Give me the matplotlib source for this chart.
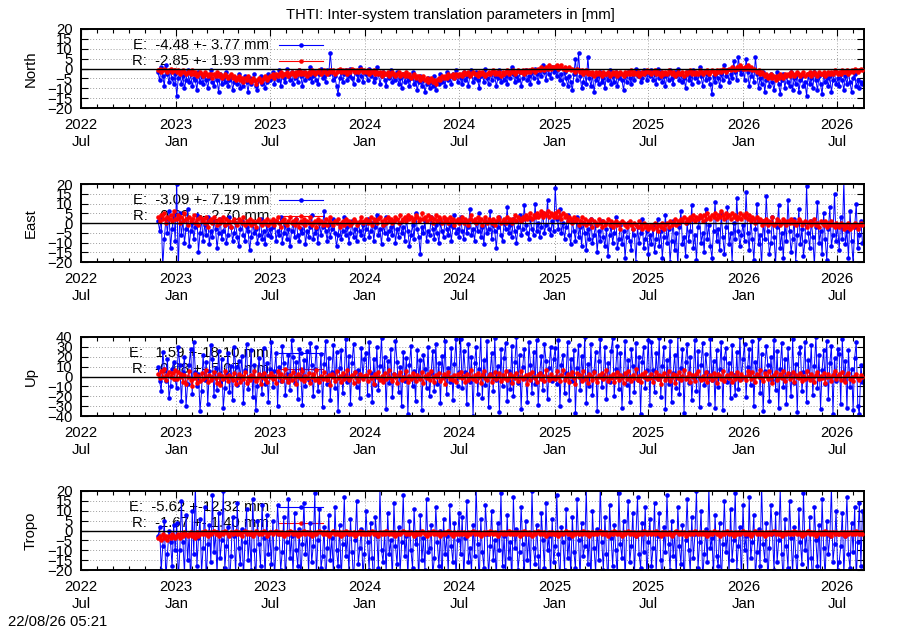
import numpy as np
import matplotlib
matplotlib.use("Agg")
import matplotlib.pyplot as plt
import matplotlib.dates as mdates
from datetime import datetime

plt.rcParams['font.family'] = ['Liberation Sans', 'DejaVu Sans']
FS = 10.7
plt.rcParams['font.size'] = FS

title = "THTI: Inter-system translation parameters in [mm]"
stamp = "22/08/26 05:21"
panel_names = ["North", "East", "Up", "Tropo"]
e_labels = ["E:  -4.48 +- 3.77 mm", "E:  -3.09 +- 7.19 mm", "E:   1.59 +-18.10 mm", "E:  -5.62 +-12.32 mm"]
r_labels = ["R:  -2.85 +- 1.93 mm", "R:   0.69 +- 2.70 mm", "R:  -0.68 +- 5.07 mm", "R:  -1.67 +- 1.40 mm"]
y_limits = [20, 20, 40, 20]
y_steps = [5, 5, 10, 5]

first_day = "2022-11-27"
last_day = "2026-08-19"

north_E = [-2, -6, 1, -4, -9, 2, -3, -7, -1, -5, -8, -3,
 -14, -5, -2, -8, -4, -10, -6, -1, -7, -3, -9, -5, -6, -11, -2, -7, -4, -8, -3, -6, -10, -5, -1, -7, -9, -4, -6, -12, -3, -8, -5, -7, -2, -9, -6, -4, -11, -7, -5, -8, -3, -10, -6, -9, -4, -7, -12, -5, -8, -6, -3, -9, -11, -6, -4, -8, -5, -10, -7, -3, -6,
 -5, -2, -8, -4, -6, -1, -9, -3, -5, -7, 0, -4, -6, -2, -8, -5, -3, -7, -1, -4, -9, -2, -6, -3, -5, 1, -7, -4, -2, -6, -8, -3, 0, -5, -4, -7, -1, -3, 8, -2, -6, -4, -9, -13, -5, -2, -7, -3, -1, -6, -4, 0, -5, -8, -2, -3, -6, 1, -4, -7, -2,
 -3, -6, 0, -4, -2, -7, -5, 1, -3, -8, -4, -2, -6, -9, -3, -5, -1, -7, -4, -6, -2, -8, -5, -10, -3, -7, -4, -6, -9, -5, -2, -8, -6, -11, -7, -4, -9, -6, -12, -8, -5, -10, -7, -9, -4, -11, -6, -8, -3, -7, -5, -9, -2, -6, -4, -8, -3, -5, -1, -7, -4,
 -5, -8, -2, -6, -4, -9, -3, -1, -7, -5, -2, -6, -10, -4, -3, -7, 0, -5, -8, -3, -6, -2, -4, -9, -5, -1, -7, -3, -6, -4, -8, -2, -5, 1, -3, -7, -4, -6, -2, -9, -5, -3, -1, -6, -4, -8, -2, -5, 0, -3, -7, -1, -4, 2, -2, -6, 0, -3, -5, 1, -2,
 -1, -4, 0, -6, -3, -8, -2, -5, -9, -4, -7, -11, -3, 5, -6, 8, -4, -10, -7, -2, -8, 6, -5, -9, -3, -12, -6, -4, -8, -2, -7, -5, -10, -3, -6, -1, -8, -4, -7, -2, -9, -5, -3, -6, -11, -4, -7, -2, -5, -8, -3, -6, 0, -4, -2, -7, -5, -1, -3, -6, -2,
 -4, -1, -6, -3, -8, 0, -5, -2, -7, -4, -9, -3, -6, -1, -5, -8, -2, -4, 0, -6, -3, -7, -5, -10, -2, -6, -4, -8, -1, -5, -3, -7, 1, -4, -9, -2, -6, -3, -5, -8, -13, -4, -7, -2, -5, -9, -3, -6, 2, -4, -1, -7, -3, -5, 4, -2, -6, 6, -1, -3, 0,
 -6, 5, -2, -9, -4, -1, -7, 6, -3, -10, -5, -8, -2, -12, -6, -4, -9, -3, -7, -11, -5, -2, -8, -13, -6, -3, -10, -4, -7, -9, -2, -11, -5, -8, -3, -12, -6, -4, -9, -7, -14, -3, -8, -5, -10, -2, -6, -11, -4, -8, -13, -3, -7, -5, -9, -4, -12, -6, -2, -8, -5,
 -9, -3, -6, -11, -4, -8, -2, -7, -12, -5, -3, -9, -6, -10, -7, -8]

north_R = [-1, 0, -2, -1, 0, -1, -2, -1, 0, -2, -1, -1,
 -2, -1, -3, -2, -1, -2, -3, -2, -2, -3, -1, -3, -2, -4, -3, -2, -3, -4, -2, -3, -4, -3, -3, -5, -3, -4, -2, -4, -3, -5, -4, -3, -4, -5, -4, -3, -5, -4, -6, -5, -4, -6, -5, -7, -5, -6, -4, -6, -7, -5, -6, -8, -6, -5, -7, -6, -5, -4, -6, -5, -4,
 -4, -3, -5, -3, -4, -3, -2, -4, -3, -3, -2, -4, -3, -2, -3, -4, -2, -3, -1, -3, -2, -3, -2, -4, -2, -3, -1, -2, -3, -2, -2, -1, -3, -2, -1, -2, -3, -2, -1, -2, -1, -3, -2, -1, 0, -2, -1, -2, -1, -3, -1, -2, 0, -1, -2, -1, -2, -1, 0, -2, -1,
 -2, -1, -3, -2, -2, -1, -3, -2, -3, -2, -4, -2, -3, -3, -2, -4, -3, -2, -3, -4, -3, -2, -4, -3, -3, -4, -2, -4, -3, -5, -4, -3, -5, -4, -4, -6, -5, -4, -6, -5, -7, -6, -5, -7, -6, -8, -6, -5, -6, -4, -5, -4, -5, -3, -4, -4, -3, -5, -3, -4, -3,
 -3, -4, -2, -3, -3, -2, -4, -3, -2, -3, -3, -4, -2, -3, -2, -3, -4, -3, -2, -3, -2, -1, -3, -2, -3, -2, -4, -2, -3, -2, -1, -3, -2, -2, -1, -3, -2, -1, -2, -2, -1, -3, -1, -2, -1, -2, 0, -1, -2, -1, 0, -1, 1, 0, -1, 1, 0, 2, 0, 1, 1,
 1, 2, 0, 1, 2, 0, 1, -1, 0, 1, -1, 0, -1, -2, 0, -1, -2, -1, -3, -2, -1, -3, -2, -3, -2, -4, -2, -3, -2, -3, -4, -2, -3, -3, -2, -4, -3, -2, -3, -2, -4, -3, -2, -3, -4, -2, -3, -2, -3, -1, -3, -2, -3, -2, -4, -3, -2, -3, -2, -1, -2,
 -2, -3, -2, -1, -3, -2, -3, -4, -2, -3, -2, -3, -1, -2, -3, -2, -4, -3, -2, -3, -3, -2, -4, -2, -3, -2, -1, -3, -2, -3, -2, -3, -1, -2, -3, -2, -2, -1, -3, -2, -1, -2, -3, -1, -2, -1, -2, 0, -1, -2, -1, 0, -1, 1, 0, -1, 1, 0, 2, 1, 0,
 1, 0, 2, 0, 1, -1, 0, -1, -2, -1, -3, -2, -3, -4, -3, -5, -4, -3, -5, -4, -6, -4, -5, -3, -4, -5, -3, -4, -3, -4, -2, -3, -4, -3, -2, -3, -4, -3, -2, -4, -3, -3, -2, -4, -3, -2, -3, -4, -2, -3, -3, -2, -4, -3, -2, -3, -2, -3, -1, -2, -3,
 -2, -3, -1, -2, -2, -1, -3, -2, -1, -2, 0, -1, -2, -1, 0, -1]

east_E = [1, -4, 3, -22, -8, 2, -5, 6, -13, -3, 4, -9,
 20, -25, 5, -6, 1, -10, -3, 7, -12, -4, 0, -8, -2, 4, -15, -5, 2, -9, -1, -6, 3, -11, -4, -7, 1, -3, -13, -5, 2, -8, -4, -1, -10, -6, 3, -2, -9, -5, 0, -7, -12, -3, 1, -6, -9, -2, -4, -14, -7, 0, -5, -3, -10, -6, 2, -8, -4, -11, -1, -6, -3,
 -7, -2, 1, -9, -4, -6, 3, -10, -5, -1, -8, -3, -12, -4, 0, -7, 2, -6, -9, -3, -5, 1, -11, -4, -7, -2, 4, -8, -5, -3, -10, 0, -6, -2, 6, -4, -9, -1, -7, -3, 2, -5, -12, -6, -1, -8, -4, 3, -6, -2, -10, -5, 1, -7, -3, -9, 0, -4, -6, -1, -8,
 -3, 2, -7, -4, 0, -9, -2, 4, -6, -3, -11, -1, -5, 3, -8, -4, -2, -6, 1, -10, -3, -7, 0, -5, -2, -9, 2, -4, -12, -6, -1, -8, 5, -3, -7, -16, -2, -5, 1, -9, -4, -6, 3, -3, -8, -1, -5, -10, 0, -4, -7, 2, -3, -6, -1, -9, -2, 4, -5, -3, -7,
 3, -4, -8, 1, -5, -2, 7, -6, -3, -9, 0, -4, 5, -7, -2, -11, 1, -5, -3, 6, -8, -1, -4, -13, -2, 3, -6, -9, 0, -3, 8, -5, -1, -7, 2, -4, -10, -2, 4, -6, -3, 9, -1, -5, -8, 2, -3, -6, 10, -4, 0, -7, -2, 5, -5, -1, 12, -3, -6, 1, -4,
 18, 2, -3, 7, -5, 0, -8, -2, 4, -6, -11, 1, -4, -9, 3, -7, -2, -12, 0, -5, -14, -3, -8, 2, -10, -6, -1, -15, -4, -9, 1, -7, -12, -3, -17, -6, -2, -10, -5, 3, -13, -8, -1, -11, -4, -18, -7, 0, -9, -14, -3, -6, -20, -2, -10, -5, 2, -13, -8, -4, -16,
 -6, -11, -1, -15, -8, 2, -12, -4, -18, -7, 4, -10, -3, -20, -9, 1, -14, -5, -22, -2, 6, -11, -7, -17, 0, -9, -4, 9, -13, -6, -19, -2, 3, -10, -5, -15, 7, -8, -1, -12, -18, -4, 11, -9, -3, -14, 5, -7, -16, -2, 8, -11, -5, -20, 0, -8, 13, -4, -12, -6, -1,
 -9, 16, -5, -14, 2, -8, -19, -3, 10, -11, -6, -22, 1, -8, 14, -4, -16, -10, 3, -7, -21, -2, 9, -13, -5, -18, 0, -9, 12, -4, -15, -8, 2, -20, -6, 7, -11, -3, -17, -9, 19, -5, -13, 1, -7, -22, -2, 11, -10, -4, -16, 5, -8, -19, -3, 8, -12, -6, 15, -9, -1,
 -14, 3, -8, 22, -11, -4, -18, 6, -9, -21, -2, 10, -13, -6, 1, -10]

east_R = [3, 1, 4, 2, 5, 0, 3, 2, 4, 1, 6, 2,
 2, 4, 0, 3, 1, 5, 2, -1, 3, 1, 2, 4, 0, 2, -1, 3, 1, 2, 0, 3, -2, 1, 2, 0, 3, 1, -1, 2, 0, 1, 3, -1, 2, 0, 1, -2, 1, 2, 0, -1, 2, 1, 0, 3, -1, 1, 0, 2, -1, 1, 0, -2, 1, 2, 0, -1, 1, 0, 2, -1, 1,
 0, 2, -1, 1, 3, 0, -2, 1, 2, 0, -1, 1, 3, 0, 1, -1, 2, 0, -2, 1, 0, 2, -1, 1, 0, 3, -1, 0, 1, -2, 2, 0, 1, -1, 0, 2, -1, 1, 3, 0, -1, 1, 0, 2, -2, 0, 1, -1, 2, 0, 1, -1, 0, 2, 1, -1, 0, 1, 3, 0, 1,
 2, 0, 1, 3, -1, 2, 1, 0, 2, 3, 1, -1, 2, 0, 3, 1, 2, 0, 1, 3, 2, 0, 4, 1, 2, 3, 1, 4, 2, 3, 1, 2, 4, 3, 1, 2, 5, 2, 3, 1, 4, 2, 3, 0, 2, 4, 1, 3, 2, 0, 3, 1, 2, 0, 3, 1, 2, -1, 1, 2, 0,
 1, 3, 0, 2, 1, -1, 2, 4, 1, 2, 0, 3, 1, 2, -1, 1, 3, 0, 2, 1, 0, 2, -1, 1, 3, 2, 0, 1, 2, 0, 3, 1, 2, 0, 2, 4, 1, 3, 2, 1, 3, 2, 4, 2, 3, 5, 2, 4, 3, 5, 3, 4, 6, 3, 5, 4, 6, 3, 5, 4, 3,
 5, 3, 6, 4, 2, 5, 3, 4, 1, 3, 2, 0, 3, 1, 2, -1, 1, 3, 0, 2, -1, 1, 0, 2, -2, 1, 0, -1, 2, 0, -2, 1, -1, 0, 2, -1, 1, -2, 0, 1, -1, 0, -3, 1, 0, -1, -2, 0, 1, -1, -3, 0, -1, -2, 1, -1, -3, 0, -2, -1, -3,
 -2, -1, -3, 0, -2, -4, -1, -2, 0, -3, -1, 0, -2, 1, -1, 0, 2, -1, 1, 0, 2, 1, 3, 0, 2, 1, 3, 2, 4, 1, 3, 2, 4, 3, 1, 4, 2, 5, 3, 2, 4, 3, 5, 2, 4, 3, 6, 4, 2, 5, 3, 4, 2, 5, 3, 4, 2, 3, 5, 2, 4,
 3, 5, 2, 4, 1, 3, 2, 0, 3, 1, 2, -1, 1, 0, 2, -1, 1, 0, 3, -1, 0, 2, 1, -1, 0, 2, 1, -1, 1, 0, 2, 0, 1, -1, 0, 2, 1, -1, 0, 1, -2, 0, 1, -1, 0, 2, -1, 0, -2, 1, 0, -1, 1, -2, 0, -1, 1, -1, -2, 0, -1,
 -2, 0, -1, -3, -1, -2, 0, -3, -1, -2, 0, -1, -3, -1, 0, -1]

up_E = [10, -5, -15, 25, 8, -5, 18, -22, -10, 8, 15, -3,
 -12, 30, 12, -25, 5, 20, -30, -8, 12, 28, -18, 35, 5, -10, 3, -35, -15, 22, -4, 15, -28, 6, 32, 18, -20, 9, -14, 26, -6, 18, -32, -12, 4, 24, -16, 11, -24, 30, 10, -9, 16, -2, 21, -27, 7, 33, -13, -3, 27, -21, 12, -34, -10, 19, 2, -18, 29, -8, 14, -26, 8,
 35, -11, 6, 24, -30, 10, -5, 31, 14, -19, 3, 22, -14, 37, 20, -7, 15, -23, 28, 1, -29, 17, -10, 26, -4, 34, 12, -20, 8, 30, -15, -2, 23, -31, 13, 36, -8, 19, -24, 5, 32, -12, 25, -35, 9, 27, -17, 2, 38, -6, 21, -28, 14, 33, 5, -11, 7, -22, 29, 0, 18,
 24, -19, 35, 4, -26, 18, -9, 30, -14, 11, 39, -3, 20, -33, 16, -7, 28, -21, 3, 36, 15, -16, 10, -30, 25, -5, 19, -38, 12, 31, -10, 6, -25, 27, -2, 17, -34, 22, 8, -12, 30, -20, 4, 26, -15, 33, -8, 14, -27, 21, 0, 36, -18, 9, -6, 29, -24, 13, 38, -10, 5,
 38, -12, 26, 5, -28, 33, -6, 20, -40, 14, 30, -18, 8, 42, -22, 17, -9, 36, -31, 3, 24, -15, 39, -4, 11, -36, 28, -10, 19, 34, -25, 6, -13, 31, -20, 15, 40, -7, 22, -33, 10, 28, -2, -26, 35, 12, -17, 25, -8, 37, -29, 4, 21, -14, 33, 16, -23, 9, 30, -5, 18,
 29, -8, 37, -30, 12, 22, -17, 4, 35, -24, 18, -5, 27, -37, 9, 32, -14, 21, -2, 40, -27, 13, -10, 33, -19, 6, 25, -35, 16, 38, -11, 2, 30, -23, 14, -6, 26, 39, -20, 8, 31, -13, 24, -32, 3, 36, -9, 17, -26, 28, 11, -16, 34, -4, 20, -38, 15, 30, -12, 7, 37,
 -29, 35, 7, -16, 24, -3, 39, -21, 11, 30, -33, 17, -8, 36, -26, 4, 22, -12, 41, -18, 9, 28, -37, 15, 33, -7, 20, -24, 1, 37, -15, 26, -31, 12, 34, -9, 23, 5, -28, 38, -4, 16, -32, 27, -11, 8, 35, -34, 19, 29, -6, 14, -22, 32, 2, -19, 25, -13, 40, -3, 18,
 33, -21, 10, 28, -9, 36, -30, 15, 2, 39, -17, 23, -35, 6, 31, 12, -25, 20, -4, 37, -14, 26, -32, 8, 34, -11, 18, -28, 29, 3, -20, 38, -7, 13, -36, 24, 30, -15, 5, 35, -26, 17, -2, 32, -19, 11, 40, -12, 22, -33, 7, 27, -8, 36, -23, 14, 31, -38, 19, -5, 28,
 23, -28, 38, -4, 16, -32, 27, -11, 8, -34, 19, 35, -30, -38, 12, -6]

up_R = [3, -2, 6, 0, 8, -4, 2, 5, -1, 4, -3, 7,
 -3, 5, -1, 3, -6, 2, -8, 0, 6, -4, -10, -2, 3, -7, 1, -5, 4, -3, -1, 7, -6, 2, -4, 0, 5, -2, -7, 3, -9, 1, -3, 6, -1, -5, 2, 0, -4, 4, -8, -2, 3, -6, 1, -3, 5, -7, 0, -4, 2, -1, 6, -5, -2, 3, -8, 0, 4, -3, -6, 1, -1,
 4, -3, 1, -7, 6, -1, 3, -5, 0, 8, -2, -6, 2, -4, 5, -1, -8, 3, 0, -3, 6, -5, 1, -2, 4, -7, 0, 3, -4, 7, -2, -6, 1, -3, 5, -1, -4, 2, -9, 3, 0, -5, 6, -2, 1, -6, 4, -3, -1, 7, -4, 0, 2, -7, 5, -2, -5, 3, 0, -3, 1,
 2, -5, 6, -2, 0, -8, 3, -1, 5, -4, 1, -6, 4, -3, 0, 7, -2, -5, 3, -1, -7, 2, 5, -4, 0, -2, 6, -6, 1, -3, 4, -1, -5, 2, 0, -3, 5, -7, 1, -2, 3, -4, 6, 0, -6, 2, -1, 4, -5, -2, 3, -8, 1, 5, -3, 0, -4, 2, -6, 3, -1,
 5, -2, 1, -6, 3, -4, 0, 7, -3, 2, -5, 4, -1, -7, 2, 6, -2, -4, 1, 3, -6, 0, 5, -3, -1, 4, -5, 2, -2, 6, -4, 0, 3, -7, 1, -2, 4, -5, 0, 6, -3, -1, 2, -8, 3, -4, 5, 0, -2, -6, 2, 4, -3, 1, -5, 7, -1, -4, 3, -2, 0,
 -3, 6, -1, -5, 2, 7, -4, 0, 3, -6, 1, 5, -2, -8, 4, -1, 2, -5, 6, -3, 0, -7, 3, 1, -4, 5, -2, -6, 2, 0, 4, -3, -1, 7, -5, 1, -2, 3, -6, 0, 5, -4, 2, -1, -7, 4, -3, 6, 0, -5, 2, -2, 8, -4, 1, -6, 3, -1, 5, -3, 0,
 -2, 3, -6, 0, 5, -3, 2, -8, 1, 4, -4, -1, 6, -5, 0, 3, -7, 2, -2, 5, -4, 1, 7, -3, -1, 4, -6, 2, 0, -5, 3, 6, -2, -4, 1, -3, 5, -6, 0, 2, -4, 4, -1, -7, 3, 1, -3, 6, -5, 0, 2, -2, 4, -6, 1, -3, 5, -1, -4, 3, 0,
 0, -4, 6, 2, -3, 5, -1, -6, 3, 0, 7, -2, -5, 4, 1, -3, 6, -1, -7, 2, 5, -4, 0, 3, -2, 6, -5, 1, 4, -3, -1, 5, -6, 2, 0, -2, 4, -5, 1, -3, 6, -1, -4, 3, 0, -6, 2, 5, -3, 1, -2, 4, -7, 0, 3, -1, -5, 2, 6, -3, 1,
 3, -4, 5, -1, -6, 2, 4, -3, 0, -5, 1, 3, -2, -4, 2, 0]

tropo_E = [-3, 2, -20, -8, 5, -24, -12, 0, -6, -18, 3, -10,
 4, -25, -10, 15, -6, -22, 8, -15, -2, -28, 10, -12, 24, -18, -4, 6, -21, -9, 12, -26, -7, 3, -16, 18, -11, -1, -23, 9, -14, -5, 20, -19, -8, 2, -27, -13, 7, -3, -22, 14, -9, -17, 1, -24, -6, 11, -15, -2, -20, 16, -10, -25, 5, -7, -18, 13, -4, -23, 8, -12, -1,
 -17, 5, -24, -9, 13, -2, -20, -11, 7, -26, -6, 16, -14, -3, -22, 9, -10, -18, 1, -25, -7, 14, -12, -1, -21, 4, -16, -8, 19, -23, -5, 11, -19, -13, 2, -27, -9, 8, -15, -4, -22, 12, -10, -18, 3, -24, -7, 17, -13, -2, -21, 6, -11, -26, -5, 15, -17, -9, 1, -23, -12,
 10, -6, -20, 4, -14, -28, 7, -3, -19, 21, -10, -16, -1, -22, 9, -12, -5, -25, 14, -8, -17, 2, -21, -6, 18, -13, -3, -24, 5, -10, -19, 11, -7, -2, -26, 8, -15, -4, -20, 16, -11, -9, 3, -23, -14, 12, -6, -18, 0, -27, 6, -12, -3, -21, 13, -8, -16, 4, -24, -5, 9,
 -12, 7, -24, -4, 15, -16, -9, -21, 3, -13, 22, -7, -27, 6, -11, -19, 13, -2, -23, -8, 10, -15, -5, -25, 4, -10, 19, -18, -3, -22, 8, -14, -6, -26, 17, -9, 1, -20, -11, 12, -7, -24, 5, -15, -2, -21, 20, -9, -17, 3, -13, -28, 9, -5, -19, 14, -10, -3, -23, 6, -16,
 -8, 18, -12, -25, 2, -6, -20, 11, -14, -4, -22, 7, -11, -19, 16, -5, -24, 4, -13, -8, 21, -17, -2, -26, 10, -9, -21, 1, -15, 23, -6, -20, 7, -12, -27, 13, -4, -18, 3, -10, -23, 19, -7, -14, 5, -25, -1, 15, -16, -8, 9, -22, -3, 17, -12, -19, 4, -11, 12, -24, -6,
 6, -18, -9, 14, -22, -3, 9, -15, -26, 2, -11, 18, -7, -20, 5, -13, -1, -24, 12, -8, -17, 3, -28, -5, 16, -10, -21, 7, -14, -2, 20, -19, -6, 10, -25, -12, 1, -16, 22, -9, -4, -23, 8, -13, -18, 4, -27, -7, 15, -11, -1, -22, 11, -15, -5, 19, -20, -8, 2, -26, 13,
 -10, -3, -21, 17, -14, -6, 8, -24, -11, 1, -18, 23, -7, -15, 4, -26, -9, 13, -2, -20, 9, -16, -5, 21, -12, -27, 6, -8, -19, 15, -4, -22, 2, -13, -25, 11, -6, -17, 19, -10, -1, -23, 7, -14, -28, 12, -5, -18, 3, -21, 16, -9, -24, 5, -12, -3, 22, -16, -7, 10, -20,
 -16, -8, 9, -22, -3, 17, -12, -19, 4, -11, 12, -25, -6, 14, -18, 10]

tropo_R = [-4, -3, -5, -2, -4, -3, -5, -3, -4, -2, -3, -4,
 -3, -2, -4, -2, -3, -1, -2, -3, -2, -1, -3, -2, -4, -1, -3, -2, -1, -2, 0, -2, -3, -1, -2, -1, 0, -2, -1, -3, -2, -1, -2, 0, -1, -2, -3, -1, -2, -1, 0, -2, -1, -2, -3, -1, 0, -2, -1, -2, -1, -3, -2, 0, -1, -2, -1, -2, 0, -1, -3, -2, -1,
 -1, -2, -1, 0, -2, -1, -2, -1, -3, -2, -1, -2, 0, -1, -2, -1, -2, -3, -1, -2, -1, 0, -2, -1, -2, -1, -3, -2, -1, -2, -1, 0, -1, -2, -1, -2, -1, -3, -2, -1, 0, -2, -1, -2, -1, -3, -1, -2, 0, -1, -2, -1, -2, -1, -3, -2, -1, 0, -2, -1, -2,
 -2, -1, -2, -1, 0, -2, -1, -2, -3, -1, -2, -1, -2, 0, -1, -2, -1, -2, -1, -3, -2, -1, -2, -1, 0, -1, -2, -1, -2, -1, -2, -3, -1, -2, -1, -2, 0, -1, -2, -3, -1, -2, -1, 0, -2, -1, -2, -1, -3, -2, -1, -2, -1, 0, -1, -2, -3, -1, -2, -1, -2,
 -1, -2, -1, -2, -3, -1, -2, -1, 0, -2, -1, -2, -1, -3, -2, -1, -2, -1, -2, 0, -1, -2, -1, -2, -3, -2, -1, -2, -1, -2, -1, 0, -2, -1, -2, -1, -2, -1, -3, -1, -2, 0, -1, -2, -1, -2, -3, -1, -2, -1, 0, -2, -1, -2, -1, -3, -2, -1, -2, -1, -2,
 -2, -1, -3, -2, -1, -2, -1, 0, -2, -1, -2, -3, -1, -2, -1, -2, -1, -2, 0, -1, -2, -1, -3, -2, -1, -2, -1, -2, -1, 0, -2, -1, -2, -1, -3, -2, -1, -2, 0, -1, -2, -1, -2, -3, -1, -2, -1, 0, -2, -1, -2, -1, -3, -1, -2, -1, -2, 0, -1, -2, -1,
 -1, -2, -1, -2, 0, -1, -2, -3, -1, -2, -1, -2, -1, -2, -3, -2, -1, 0, -1, -2, -1, -2, -1, -3, -2, -1, -2, -1, -2, 0, -1, -2, -1, -2, -1, -2, -1, -3, -2, -1, -2, 0, -1, -2, -1, -3, -2, -1, -2, -1, 0, -2, -1, -2, -3, -1, -2, -1, -2, -1, 0,
 -2, -1, -2, -1, -3, -2, -1, 0, -2, -1, -2, -1, -2, -3, -1, -2, -1, -2, -1, 0, -2, -1, -2, -1, -3, -2, -1, -2, -1, -2, -1, -2, 0, -1, -2, -1, -2, -3, -1, -2, -1, 0, -2, -1, -2, -1, -3, -2, -1, -2, -1, -2, 0, -1, -2, -1, -3, -1, -2, -1, -2,
 -2, -1, -2, -1, -3, -1, -2, -1, -2, -1, -2, 0, -1, -2, -1, -2]

series_E = [north_E, east_E, up_E, tropo_E]
series_R = [north_R, east_R, up_R, tropo_R]


def day_axis(n):
    t0 = np.datetime64(first_day).astype('datetime64[h]')
    t1 = np.datetime64(last_day).astype('datetime64[h]')
    span = float((t1 - t0).astype(np.int64))
    hours = np.round(np.arange(n) * span / (n - 1)).astype(np.int64).astype('timedelta64[h]')
    return (t0 + hours).astype('datetime64[s]').astype(datetime)


fig = plt.figure(figsize=(9, 6.3), dpi=100)
W, H = 900.0, 630.0
left_px, right_px = 81, 864
tops = [29, 184, 337, 491]
bots = [108, 262, 416, 570]

BLUE = '#0000ff'
RED = '#ff0000'

for k in range(4):
    ax = fig.add_axes([left_px / W, 1 - bots[k] / H, (right_px - left_px) / W, (bots[k] - tops[k]) / H])
    xe = day_axis(len(series_E[k]))
    xr = day_axis(len(series_R[k]))
    ax.plot(xe, series_E[k], '-', color=BLUE, lw=0.7, marker='o', ms=3.3, mew=0, zorder=2)
    ax.plot(xr, series_R[k], '-', color=RED, lw=0.7, marker='o', ms=3.3, mew=0, zorder=3)
    ax.axhline(0, color='black', lw=1.0, zorder=4)

    lim = y_limits[k]
    ax.set_ylim(-lim, lim)
    ax.set_yticks(np.arange(-lim, lim + 1, y_steps[k]))
    ax.set_xlim(datetime(2022, 7, 1), datetime(2026, 8, 22))
    ax.xaxis.set_major_locator(mdates.MonthLocator(bymonth=[1, 7]))
    ax.xaxis.set_minor_locator(mdates.MonthLocator())
    ax.xaxis.set_major_formatter(mdates.DateFormatter('%Y\n%b'))
    ax.tick_params(which='both', direction='in', top=True, right=True, labelsize=FS)
    ax.tick_params(which='major', length=5, width=0.8)
    ax.tick_params(which='minor', length=3, width=0.8)
    ax.tick_params(axis='x', which='major', pad=7.5)
    ax.tick_params(axis='y', which='major', pad=6)
    ax.grid(True, which='major', color='#a0a0a0', ls=(0, (1, 2)), lw=0.7)
    for sp in ax.spines.values():
        sp.set_linewidth(1.4)

    # key (drawn beneath the data like the original)
    for row, (lab, col) in enumerate([(e_labels[k], BLUE), (r_labels[k], RED)]):
        yk = 0.80 - row * 0.205
        ax.text(0.240, yk, lab, ha='right', va='center', transform=ax.transAxes,
                fontsize=FS, zorder=1)
        ax.plot([0.253, 0.309], [yk, yk], color=col, lw=0.8, transform=ax.transAxes, zorder=1.2)
        ax.plot([0.281], [yk], color=col, marker='o', ms=3.3, mew=0, transform=ax.transAxes, zorder=1.2)

    fig.text(31 / W, 1 - (tops[k] + bots[k]) / 2 / H, panel_names[k], rotation=90,
             ha='center', va='center', fontsize=FS)

fig.text(0.5, 1 - 15 / H, title, ha='center', va='center', fontsize=FS)
fig.text(8 / W, 1 - 622 / H, stamp, ha='left', va='center', fontsize=FS)

fig.savefig('out.png', dpi=100)
